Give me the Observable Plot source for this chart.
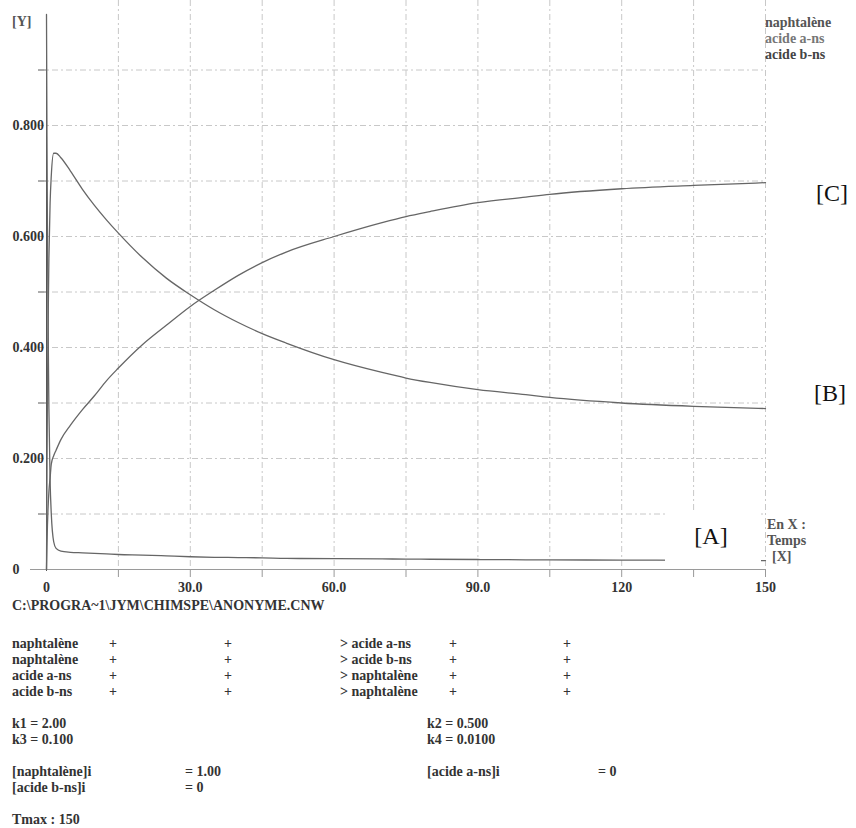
<!DOCTYPE html>
<html><head><meta charset="utf-8">
<script src="https://cdn.jsdelivr.net/npm/d3@7"></script>
<script src="https://cdn.jsdelivr.net/npm/@observablehq/plot@0.6"></script>
<style>
body{margin:0;background:#fff;}
#wrap{position:relative;width:856px;height:828px;font-family:"Liberation Serif",serif;font-weight:bold;color:#333;overflow:hidden;-webkit-font-smoothing:antialiased;}
#wrap svg{position:absolute;left:0;top:0;}
.t{position:absolute;white-space:pre;font-size:14px;line-height:16px;transform:translateY(-50%);}
.lab{position:absolute;font-family:"Liberation Serif",serif;font-weight:normal;font-size:24px;line-height:28px;color:#111;transform:translate(-50%,-50%);}
.box{position:absolute;background:#fff;}
</style></head><body><div id="wrap"></div><script>
// ---- data ----
const seriesNames = ["naphtalène", "acide a-ns", "acide b-ns"];
const times = [0, 0.1, 0.2, 0.3, 0.5, 0.75, 1, 1.5, 2, 3, 5, 7.5, 10, 12.5, 15, 20, 25, 30, 35, 40, 45, 50, 60, 70, 75, 80, 90, 100, 105, 120, 135, 150];
const naphValues = [1.0, 0.78, 0.61, 0.47, 0.29, 0.16, 0.10, 0.05, 0.038, 0.033, 0.031, 0.030, 0.029, 0.028, 0.027, 0.026, 0.0245, 0.023, 0.022, 0.0215, 0.021, 0.020, 0.0195, 0.019, 0.0188, 0.0185, 0.018, 0.0175, 0.0173, 0.017, 0.0165, 0.016];
const acideAValues = [0, 0.17, 0.32, 0.42, 0.56, 0.66, 0.71, 0.75, 0.75, 0.742, 0.718, 0.685, 0.656, 0.63, 0.606, 0.562, 0.525, 0.495, 0.468, 0.445, 0.425, 0.408, 0.378, 0.355, 0.345, 0.337, 0.324, 0.315, 0.31, 0.300, 0.294, 0.290];
const acideBValues = [0, 0.045, 0.08, 0.105, 0.14, 0.165, 0.19, 0.205, 0.215, 0.234, 0.26, 0.288, 0.313, 0.34, 0.363, 0.405, 0.44, 0.474, 0.503, 0.53, 0.553, 0.572, 0.600, 0.625, 0.636, 0.645, 0.661, 0.671, 0.676, 0.686, 0.692, 0.697];
const xGridValues = [15, 30, 45, 60, 75, 90, 105, 120, 135, 150];
const xTickValues = [0, 30, 60, 90, 120, 150];
const xTickLabels = ["0", "30.0", "60.0", "90.0", "120", "150"];
const yGridValues = [0.1, 0.2, 0.3, 0.4, 0.5, 0.6, 0.7, 0.8, 0.9];
const yMinorTicks = [0.1, 0.3, 0.5, 0.7, 0.9];
const yTickValues = [0, 0.2, 0.4, 0.6, 0.8];
const yTickLabels = ["0", "0.200", "0.400", "0.600", "0.800"];
const curveLabels = ["[A]", "[B]", "[C]"];
const reactionsLeft = ["naphtalène", "naphtalène", "acide a-ns", "acide b-ns"];
const reactionsRight = ["acide a-ns", "acide b-ns", "naphtalène", "naphtalène"];
const rateConstants = ["k1 = 2.00", "k2 = 0.500", "k3 = 0.100", "k4 = 0.0100"];
const initialNames = ["[naphtalène]i", "[acide a-ns]i", "[acide b-ns]i"];
const initialValues = ["= 1.00", "= 0", "= 0"];
const filePath = "C:\\PROGRA~1\\JYM\\CHIMSPE\\ANONYME.CNW";
const tmaxText = "Tmax : 150";

const allValues = [naphValues, acideAValues, acideBValues];
const data = seriesNames.flatMap((s, i) => times.map((t, j) => ({series: s, t, v: allValues[i][j]})));

const grid = {stroke: "#c8c8c8", strokeDasharray: "6,3,2,3", strokeWidth: 1};
const plot = Plot.plot({
  width: 856, height: 616,
  marginLeft: 46, marginRight: 91, marginTop: 14, marginBottom: 47,
  x: {domain: [0, 150], axis: null},
  y: {domain: [0, 1], axis: null},
  style: {fontFamily: "'Liberation Serif', serif", fontWeight: "bold", fontSize: "14px", color: "#333", background: "transparent"},
  marks: [
    Plot.ruleX(xGridValues, {...grid, insetTop: -14}),
    Plot.ruleY(yGridValues, {...grid, insetLeft: -8}),
    Plot.axisX({ticks: xGridValues, tickSize: 8, tickFormat: () => "", label: null, stroke: "#999"}),
    Plot.axisY({ticks: yMinorTicks, tickSize: 8, tickFormat: () => "", label: null, stroke: "#777"}),
    Plot.ruleY([0], {stroke: "#9a9a9a", insetLeft: -16}),
    Plot.ruleX([0], {stroke: "#555", insetTop: 4, insetBottom: -2}),
    Plot.line(data, {x: "t", y: "v", z: "series", stroke: "#666", strokeWidth: 1.3, curve: "monotone-x"}),
    Plot.text(yTickValues, {y: d => d, text: (d, i) => yTickLabels[i], frameAnchor: "left", dx: -34, textAnchor: "start", fill: "#333"}),
    Plot.text(xTickValues, {x: d => d, text: (d, i) => xTickLabels[i], frameAnchor: "bottom", dy: 22, fill: "#333"})
  ]
});
const wrap = document.getElementById("wrap");
wrap.appendChild(plot);

function addText(txt, x, y, cls = "t", color) {
  const d = document.createElement("div");
  d.className = cls;
  d.textContent = txt;
  d.style.left = x + "px";
  d.style.top = y + "px";
  if (color) d.style.color = color;
  wrap.appendChild(d);
  return d;
}
// [A] box hiding the curve
const box = document.createElement("div");
box.className = "box";
Object.assign(box.style, {left: "665px", top: "511px", width: "96px", height: "56px"});
wrap.appendChild(box);
addText(curveLabels[0], 711, 536, "lab");
addText(curveLabels[1], 830, 393, "lab");
addText(curveLabels[2], 832, 193, "lab");

// axis captions and legend
addText("[Y]", 12, 22, "t", "#555");
const legendColors = ["#555", "#777", "#444"];
seriesNames.forEach((s, i) => addText(s, 765, 23 + i * 16, "t", legendColors[i]));
addText("En X :", 767, 525, "t", "#555");
addText("Temps", 767, 541, "t", "#555");
addText("[X]", 772, 557, "t", "#555");

// text block below
addText(filePath, 12, 606);
reactionsLeft.forEach((s, i) => {
  const y = 644 + i * 16;
  addText(s, 12, y);
  addText("+", 109, y);
  addText("+", 224, y);
  addText("> " + reactionsRight[i], 340, y);
  addText("+", 449, y);
  addText("+", 563, y);
});
addText(rateConstants[0], 12, 724);
addText(rateConstants[1], 427, 724);
addText(rateConstants[2], 12, 740);
addText(rateConstants[3], 427, 740);
addText(initialNames[0], 12, 772);
addText(initialValues[0], 185, 772);
addText(initialNames[1], 427, 772);
addText(initialValues[1], 598, 772);
addText(initialNames[2], 12, 788);
addText(initialValues[2], 185, 788);
addText(tmaxText, 12, 820);
</script></body></html>
